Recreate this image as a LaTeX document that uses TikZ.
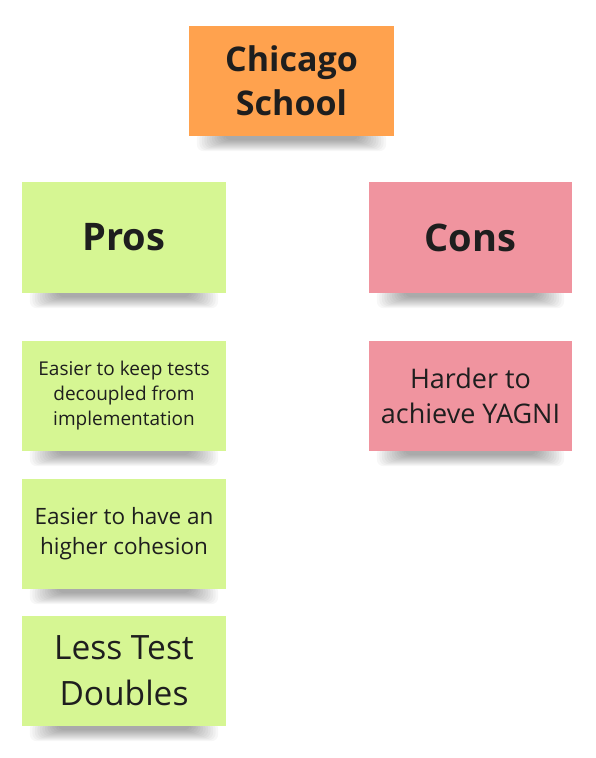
\documentclass[tikz,border=0pt]{standalone}
\usepackage{fontspec}
\setmainfont{Open Sans}
\usetikzlibrary{backgrounds}
\definecolor{noteorange}{HTML}{FFA24E}
\definecolor{notegreen}{HTML}{D6F693}
\definecolor{notepink}{HTML}{F0949F}
\definecolor{inktext}{HTML}{1E1E1E}
\tikzset{
  note/.style={rectangle, minimum width=204pt, minimum height=110pt, inner sep=4pt,
    align=center, text=inktext},
  orangenote/.style={note, fill=noteorange},
  greennote/.style={note, fill=notegreen},
  pinknote/.style={note, fill=notepink},
  shadowlayer/.style={fill=black, opacity=0.03, rounded corners=7pt},
}
\begin{document}
\begin{tikzpicture}[x=1pt,y=-1pt]
\useasboundingbox (0,0) rectangle (596,758);
\node[orangenote, minimum width=205pt, font=\bfseries\fontsize{34}{44}\selectfont] (chicago) at (291.5,81) {Chicago\\School};
\node[greennote, minimum height=111pt, font=\bfseries\fontsize{38}{44}\selectfont] (pros) at (124,237.5) {Pros};
\node[pinknote, minimum width=203pt, minimum height=111pt, font=\bfseries\fontsize{38}{44}\selectfont] (cons) at (470.5,237.5) {Cons};
\node[greennote, font=\fontsize{19}{25}\selectfont] (keep) at (124,396) {Easier to keep tests\\decoupled from\\implementation};
\node[pinknote, minimum width=203pt, font=\fontsize{27}{35}\selectfont] (yagni) at (470.5,396) {Harder to\\achieve YAGNI};
\node[greennote, font=\fontsize{22.5}{30}\selectfont] (cohesion) at (124,534) {Easier to have an\\higher cohesion};
\node[greennote, font=\fontsize{33.5}{46}\selectfont] (doubles) at (124,671) {Less Test\\Doubles};
\begin{scope}[on background layer]
  \fill[white] (0,0) rectangle (596,758);
  \foreach \n in {chicago,pros,cons,keep,yagni,cohesion,doubles}{
    \foreach \k in {0,...,11}{
      \fill[shadowlayer] ([xshift={(8+2.5*\k)*1pt}, yshift=4pt]\n.south west) rectangle ([xshift={-(8+2.5*\k)*1pt}, yshift={-(15-1*\k)*1pt}]\n.south east);
    }
  }
\end{scope}
\end{tikzpicture}
\end{document}
